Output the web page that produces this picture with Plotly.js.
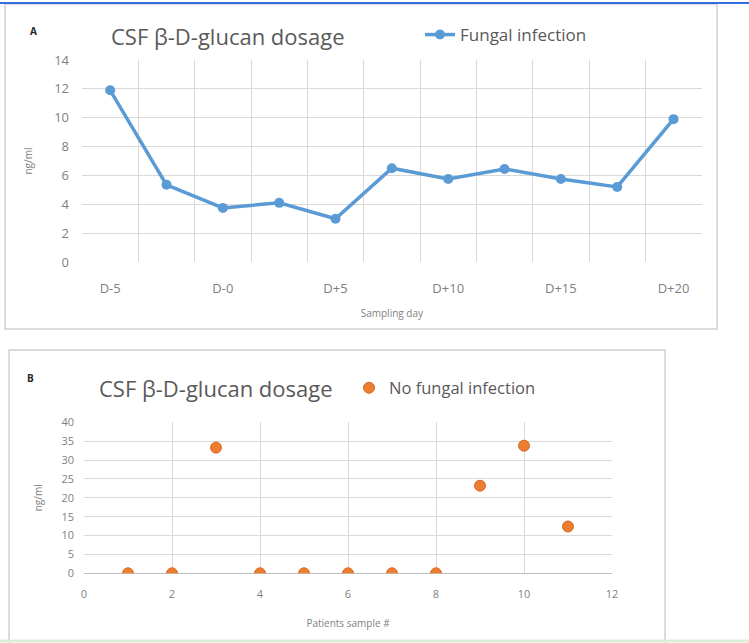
<!DOCTYPE html>
<html>
<head>
<meta charset="utf-8">
<script src="https://cdn.plot.ly/plotly-3.0.1.min.js"></script>
<style>
  html, body { margin: 0; padding: 0; background: #ffffff; }
  #chart { width: 749px; height: 643px; }
</style>
</head>
<body>
<div id="chart"></div>
<script>
// ---- Data ----
const dayLabels = ["D-5", "", "D-0", "", "D+5", "", "D+10", "", "D+15", "", "D+20"];
const fungalValues = [11.9, 5.35, 3.75, 4.1, 3.0, 6.5, 5.75, 6.45, 5.75, 5.2, 9.9];

const patientSamples = [1, 2, 3, 4, 5, 6, 7, 8, 9, 10, 11];
const noFungalValues = [0, 0, 33.3, 0, 0, 0, 0, 0, 23.2, 33.8, 12.4];

const chartTitle = "CSF β-D-glucan dosage";
const seriesA = "Fungal infection";
const seriesB = "No fungal infection";

// ---- Layout helpers ----
const W = 749, H = 643;
const px = v => v / W;            // x pixel -> paper
const py = v => (H - v) / H;      // y pixel (from top) -> paper

const FONT = "Open Sans, Lato, sans-serif";
const TXT = "#595959";
const TICK = "#7f7f7f";
const GRID = "#d9d9d9";
const BLUE = "#5b9bd5";
const ORANGE = "#ed7d31";

const dayIdx = dayLabels.map((_, i) => i);

const traces = [
  {
    x: dayIdx, y: fungalValues, type: "scatter", mode: "lines+markers",
    name: seriesA, xaxis: "x", yaxis: "y", legend: "legend",
    line: { color: BLUE, width: 3.5 },
    marker: { color: BLUE, size: 10, symbol: "circle" }
  },
  {
    x: patientSamples, y: noFungalValues, type: "scatter", mode: "markers",
    name: seriesB, xaxis: "x2", yaxis: "y2", legend: "legend2",
    marker: { color: ORANGE, size: 11, symbol: "circle", line: { color: "#d86a22", width: 1 } }
  }
];

const layout = {
  width: W, height: H,
  margin: { l: 0, r: 0, t: 0, b: 0 },
  paper_bgcolor: "#ffffff", plot_bgcolor: "#ffffff",
  font: { family: FONT, color: TXT },
  showlegend: true,
  xaxis: {
    domain: [px(82), px(701.7)],
    anchor: "y",
    range: [-0.5, dayLabels.length - 0.5],
    tickmode: "array", tickvals: dayIdx, ticktext: dayLabels,
    showgrid: false, zeroline: false, showline: false, ticks: "",
    minor: { tickmode: "linear", tick0: -0.5, dtick: 1, showgrid: true, gridcolor: GRID, gridwidth: 1, ticks: "" },
    tickfont: { size: 13, color: TICK, family: FONT },
    ticklabelstandoff: 17,
    title: { text: "Sampling day", font: { size: 10, color: TICK, family: FONT }, standoff: 13 },
    fixedrange: true
  },
  yaxis: {
    domain: [py(262), py(60)],
    anchor: "x",
    range: [0, 14], dtick: 2,
    showgrid: true, gridcolor: GRID, zeroline: false, showline: false, ticks: "",
    tickfont: { size: 13, color: TICK, family: FONT },
    ticklabelstandoff: 12,
    title: { text: "ng/ml", font: { size: 10, color: TICK, family: FONT }, standoff: 19 },
    fixedrange: true
  },
  xaxis2: {
    domain: [px(84), px(612)],
    anchor: "y2",
    range: [0, 12], dtick: 2,
    showgrid: true, gridcolor: GRID, zeroline: false, showline: false, ticks: "",
    tickfont: { size: 11, color: TICK, family: FONT },
    ticklabelstandoff: 13,
    title: { text: "Patients sample #", font: { size: 10, color: TICK, family: FONT }, standoff: 19 },
    fixedrange: true
  },
  yaxis2: {
    domain: [py(573.3), py(422.3)],
    anchor: "x2",
    range: [0, 40], dtick: 5,
    showgrid: true, gridcolor: GRID, zeroline: true, zerolinecolor: "#bfbfbf", showline: false, ticks: "",
    tickfont: { size: 11, color: TICK, family: FONT },
    ticklabelstandoff: 9,
    title: { text: "ng/ml", font: { size: 10, color: TICK, family: FONT }, standoff: 16 },
    fixedrange: true
  },
  legend: {
    x: px(420), y: py(35), xanchor: "left", yanchor: "middle",
    orientation: "h", bgcolor: "rgba(0,0,0,0)",
    font: { size: 17, color: TXT, family: FONT }
  },
  legend2: {
    x: px(349), y: py(388), xanchor: "left", yanchor: "middle",
    orientation: "h", bgcolor: "rgba(0,0,0,0)",
    font: { size: 16.5, color: TXT, family: FONT }
  },
  annotations: [
    { text: "<b>A</b>", x: px(33), y: py(31), xref: "paper", yref: "paper", xanchor: "center", yanchor: "middle", showarrow: false,
      font: { size: 10, color: "#262626", family: FONT } },
    { text: chartTitle, x: px(109), y: py(36), xref: "paper", yref: "paper", xanchor: "left", yanchor: "middle", showarrow: false,
      font: { size: 22, color: TXT, family: FONT } },
    { text: "<b>B</b>", x: px(30), y: py(378), xref: "paper", yref: "paper", xanchor: "center", yanchor: "middle", showarrow: false,
      font: { size: 10, color: "#262626", family: FONT } },
    { text: chartTitle, x: px(97), y: py(388), xref: "paper", yref: "paper", xanchor: "left", yanchor: "middle", showarrow: false,
      font: { size: 22, color: TXT, family: FONT } }
  ],
  shapes: [
    // panel A frame
    { type: "rect", xref: "paper", yref: "paper", x0: px(5), x1: px(717), y0: py(329), y1: py(4),
      line: { color: "#d0d0d0", width: 1.5 }, fillcolor: "rgba(0,0,0,0)", layer: "below" },
    // panel B frame (open at bottom)
    { type: "path", xref: "paper", yref: "paper",
      path: `M ${px(9)} ${py(643)} L ${px(9)} ${py(350)} L ${px(665)} ${py(350)} L ${px(665)} ${py(643)}`,
      line: { color: "#d0d0d0", width: 1.5 }, layer: "below" },
    // top blue rule
    { type: "line", xref: "paper", yref: "paper", x0: 0, x1: 1, y0: py(3), y1: py(3),
      line: { color: "#2f6fe0", width: 2 } },
    // faint bottom strip
    { type: "line", xref: "paper", yref: "paper", x0: 0, x1: 1, y0: py(641), y1: py(641),
      line: { color: "#dcefd6", width: 3 } }
  ]
};

Plotly.newPlot("chart", traces, layout, { displayModeBar: false, staticPlot: true });
</script>
</body>
</html>
